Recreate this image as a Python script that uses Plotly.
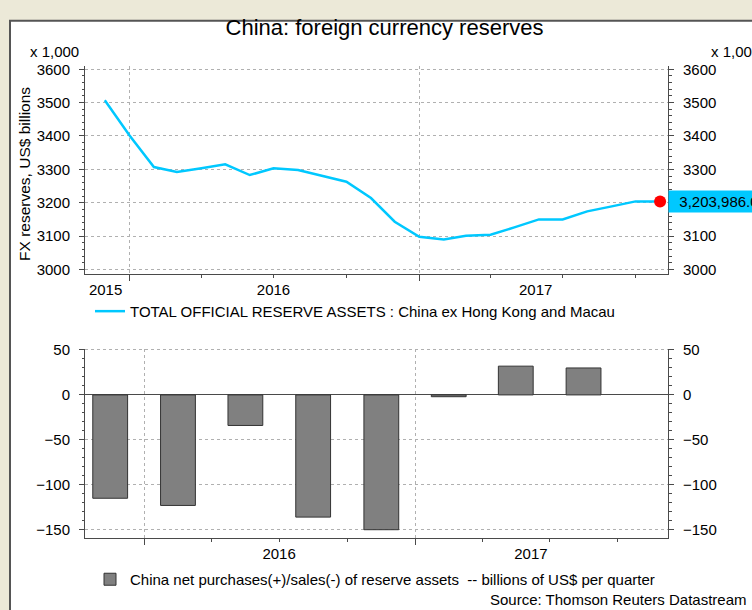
import plotly.graph_objects as go
import pandas as pd

W, H = 752, 610

# monthly total official reserve assets, US$ billions
months = ["2015-12", "2016-01", "2016-02", "2016-03", "2016-04", "2016-05",
          "2016-06", "2016-07", "2016-08", "2016-09", "2016-10", "2016-11",
          "2016-12", "2017-01", "2017-02", "2017-03", "2017-04", "2017-05",
          "2017-06", "2017-07", "2017-08", "2017-09", "2017-10", "2017-11"]
reserves = [3507, 3402, 3307, 3292, 3303, 3315, 3283, 3303, 3298, 3281, 3263, 3214,
            3143, 3098, 3090, 3101, 3104, 3126, 3150, 3150, 3174, 3189, 3204, 3203.986]

# quarterly net purchases(+)/sales(-), US$ billions
quarters = ["2015Q4", "2016Q1", "2016Q2", "2016Q3", "2016Q4", "2017Q1", "2017Q2", "2017Q3"]
net_flows = [-115, -123, -34, -136, -150, -2, 32, 30]

year_labels = ["2015", "2016", "2017"]
year_starts = ["2016-01-01", "2017-01-01"]
quarter_starts = ["2016-04-01", "2016-07-01", "2016-10-01",
                  "2017-04-01", "2017-07-01", "2017-10-01"]

FONT = "Liberation Sans, Arial, sans-serif"
AXIS = "#4a4a4a"
GRID = "#b0b0b0"
CYAN = "#00C8FF"


def px(x):
    return x / W


def py(y):
    return 1 - y / H


q = pd.PeriodIndex(quarters, freq="Q")
q_mid = q.start_time + (q.end_time - q.start_time) / 2

fig = go.Figure()

# top panel: line on the tick/grid axes, last-value dot on the label axes
fig.add_trace(go.Scatter(
    x=months, y=reserves, mode="lines",
    line=dict(color=CYAN, width=2.5),
    name="TOTAL OFFICIAL RESERVE ASSETS : China ex Hong Kong and Macau",
    xaxis="x", yaxis="y", legend="legend"
))
fig.add_trace(go.Scatter(
    x=months[-1:], y=reserves[-1:], mode="markers",
    marker=dict(color="#FF0000", size=12),
    showlegend=False, xaxis="x3", yaxis="y3"
))
# bottom panel
fig.add_trace(go.Bar(
    x=q_mid, y=net_flows, width=47 * 86400000,
    marker=dict(color="#808080", line=dict(color="#333333", width=1)),
    name="China net purchases(+)/sales(-) of reserve assets  -- billions of US$ per quarter",
    xaxis="x2", yaxis="y2", legend="legend2"
))
# same bars, transparent, only so the right-hand / year-label axes get drawn
fig.add_trace(go.Scatter(
    x=q_mid, y=net_flows, mode="markers", marker=dict(opacity=0),
    hoverinfo="skip", showlegend=False, xaxis="x4", yaxis="y4"
))


def date_axis(rng, anchor, label_axis=False, labels=None, label_pos=None, overlay=None):
    d = dict(type="date", range=rng, anchor=anchor, zeroline=False)
    if overlay:
        d["overlaying"] = overlay
    if label_axis:
        d.update(tickmode="array", tickvals=label_pos, ticktext=labels, ticks="",
                 showline=False, showgrid=False, ticklabelstandoff=5,
                 tickfont=dict(size=15, color="black"))
    else:
        d.update(tickmode="array", tickvals=year_starts, ticktext=["", ""],
                 ticks="outside", ticklen=6, tickcolor=AXIS,
                 showgrid=True, gridcolor=GRID, griddash="dot",
                 showline=True, linecolor=AXIS, linewidth=1,
                 minor=dict(tickmode="array", tickvals=quarter_starts, ticks="outside",
                            ticklen=3, tickcolor=AXIS, showgrid=False))
    return d


def val_axis(rng, dtick, minor_dtick, side, anchor, overlay=None, grid=True, zero=False):
    d = dict(range=rng, side=side, anchor=anchor, dtick=dtick, tick0=0,
             ticks="outside", ticklen=5, tickcolor=AXIS,
             showline=True, linecolor=AXIS, linewidth=1,
             showgrid=grid, gridcolor=GRID, griddash="dot",
             zeroline=zero, zerolinecolor=AXIS, zerolinewidth=1,
             ticklabelstandoff=6, tickfont=dict(size=15, color="black"),
             minor=dict(dtick=minor_dtick, tick0=0, ticks="outside", ticklen=2.5,
                        tickcolor=AXIS, showgrid=False))
    if overlay:
        d["overlaying"] = overlay
    return d


dom_x = [px(85), px(668)]
top_rng = ["2015-11-06", "2017-11-11"]
bot_rng = ["2015-10-13", "2017-12-08"]
top_y = [2987, 3610]
bot_y = [-159.5, 51.4]

xa = date_axis(top_rng, "y")
xa["domain"] = dom_x
xa2 = date_axis(bot_rng, "y2")
xa2["domain"] = dom_x

fig.update_layout(
    width=W, height=H,
    margin=dict(l=0, r=0, t=0, b=0),
    paper_bgcolor="#ECE9D8", plot_bgcolor="rgba(0,0,0,0)",
    font=dict(family=FONT, size=15, color="black"),
    title=dict(text="China: foreign currency reserves", x=px(384.5), xanchor="center",
               y=py(27), yanchor="middle", font=dict(size=22, color="black")),
    xaxis=xa,
    xaxis2=xa2,
    xaxis3=date_axis(top_rng, "y3", True, year_labels,
                     ["2015-12-02", "2016-07-01", "2017-05-28"], overlay="x"),
    xaxis4=date_axis(bot_rng, "y4", True, year_labels[1:],
                     ["2016-07-01", "2017-06-06"], overlay="x2"),
    yaxis=dict(val_axis(top_y, 100, 20, "left", "x"),
               domain=[1 - 271.7 / H, 1 - 60 / H]),
    yaxis3=val_axis(top_y, 100, 20, "right", "x3", overlay="y", grid=False),
    yaxis2=dict(val_axis(bot_y, 50, 10, "left", "x2", zero=True),
                domain=[1 - 541 / H, 1 - 348 / H]),
    yaxis4=val_axis(bot_y, 50, 10, "right", "x4", overlay="y2", grid=False),
    legend=dict(x=px(90), xanchor="left", y=py(310), yanchor="middle",
                bgcolor="rgba(0,0,0,0)", font=dict(size=15, color="black")),
    legend2=dict(x=px(90), xanchor="left", y=py(583), yanchor="middle",
                 bgcolor="rgba(0,0,0,0)", font=dict(size=15, color="black")),
    showlegend=True,
    hovermode=False,
)

# white chart panel with dark frame
fig.add_shape(type="rect", xref="paper", yref="paper",
              x0=px(10), x1=1.05, y0=-0.05, y1=py(14),
              fillcolor="white", line=dict(color="#555555", width=2), layer="below")

fig.add_annotation(text="x 1,000", xref="paper", yref="paper", x=px(54), y=py(45),
                   showarrow=False, xanchor="center", yanchor="middle", font=dict(size=15))
fig.add_annotation(text="x 1,000", xref="paper", yref="paper", x=px(709), y=py(45),
                   showarrow=False, xanchor="left", yanchor="middle", font=dict(size=15))
fig.add_annotation(text="FX reserves, US$ billions", xref="paper", yref="paper",
                   x=px(25), y=py(170), textangle=-90, showarrow=False,
                   xanchor="center", yanchor="middle", font=dict(size=15.5))
fig.add_annotation(text="&nbsp;&nbsp;" + f"{reserves[-1] * 1000:,.1f}",
                   xref="paper", yref="y", x=px(668), y=reserves[-1],
                   showarrow=False, xanchor="left", yanchor="middle", align="left",
                   width=110, bgcolor=CYAN, borderpad=2, font=dict(size=15, color="black"))
fig.add_annotation(text="Source: Thomson Reuters Datastream", xref="paper", yref="paper",
                   x=px(749), y=py(603), showarrow=False, xanchor="right", yanchor="middle",
                   font=dict(size=15))

fig.write_html("out.html", config={"displayModeBar": False},
               post_script="document.body.style.margin = '0';")
